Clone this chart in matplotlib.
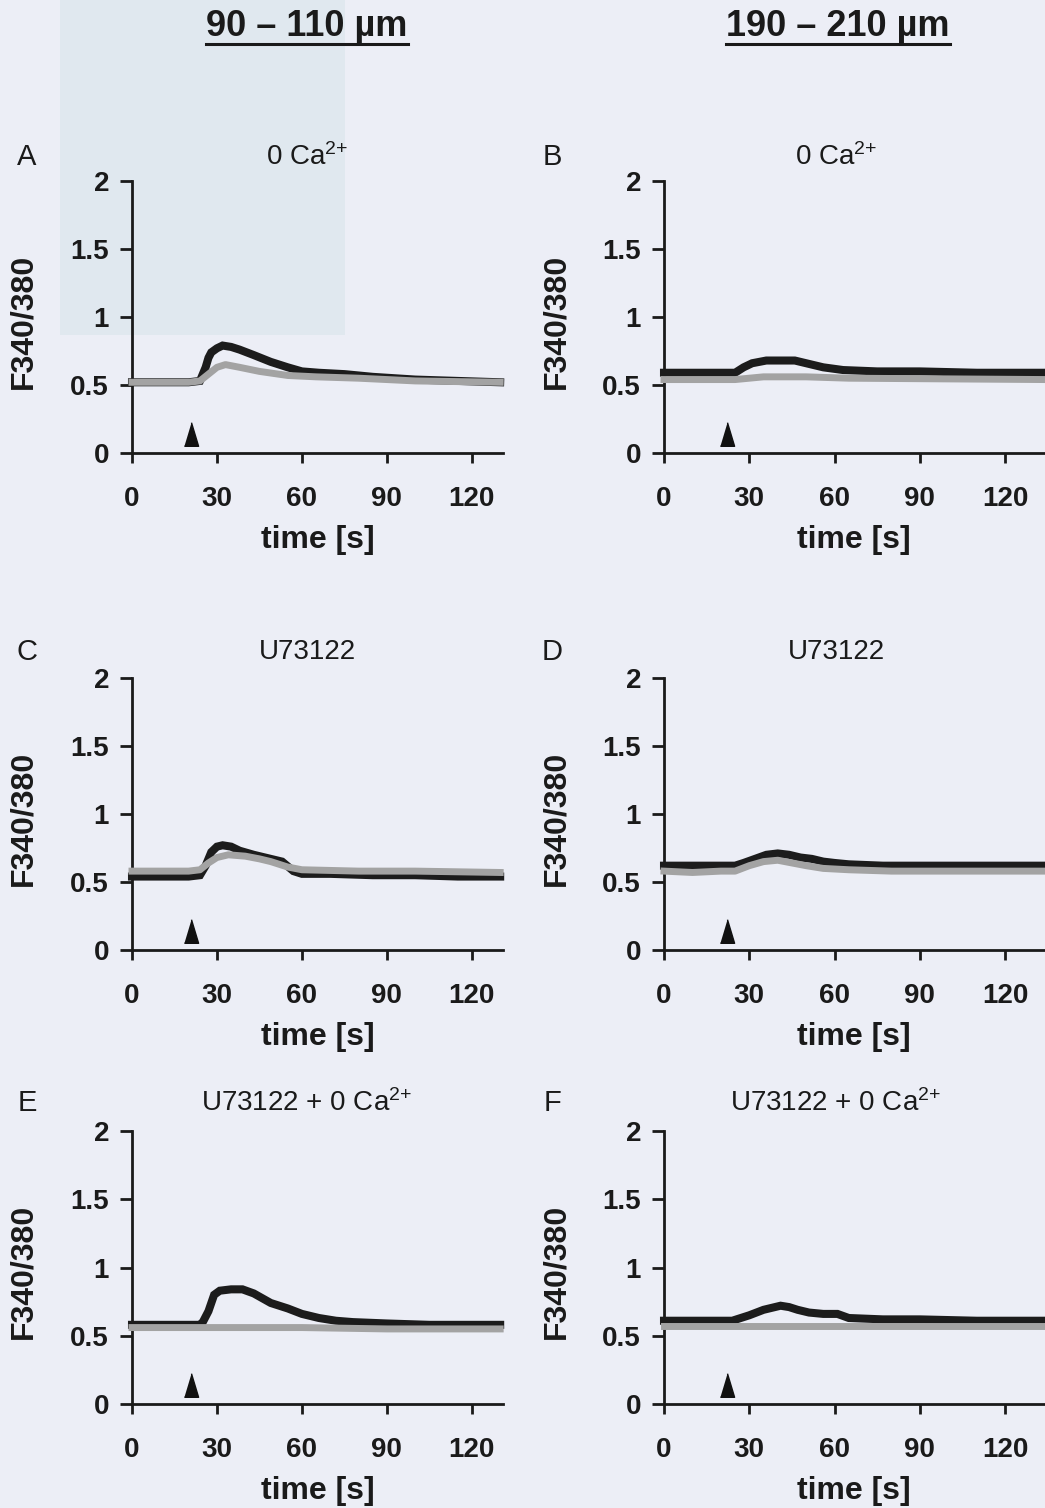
import matplotlib
matplotlib.use("Agg")
import matplotlib.pyplot as plt
from matplotlib.patches import Rectangle
from matplotlib.lines import Line2D

plt.rcParams['font.family'] = ['Liberation Sans', 'DejaVu Sans']
plt.rcParams['mathtext.default'] = 'regular'

# ---------------- data ----------------
column_headers = ["90 – 110 µm", "190 – 210 µm"]
panel_letters = ["A", "B", "C", "D", "E", "F"]
panel_titles = ["0 Ca$^{2{+}}$", "0 Ca$^{2{+}}$", "U73122", "U73122",
                "U73122 + 0 Ca$^{2{+}}$", "U73122 + 0 Ca$^{2{+}}$"]
x_ticks = [0, 30, 60, 90, 120]
y_ticks = [0, 0.5, 1, 1.5, 2]
y_tick_labels = ["0", "0.5", "1", "1.5", "2"]
stim_t = [21, 22, 21, 22, 21, 22]
stim_y = [0.14, 0.14, 0.14, 0.14, 0.14, 0.14]

# Panel A (90-110 um, 0 Ca2+)
a_black_t = [0, 10, 20, 24, 25, 26, 27, 28, 30, 32, 35, 38, 43, 49, 55, 60, 66, 75, 85, 100, 115, 130]
a_black_y = [0.52, 0.52, 0.52, 0.53, 0.58, 0.63, 0.70, 0.74, 0.77, 0.79, 0.78, 0.76, 0.72, 0.67, 0.63,
             0.60, 0.59, 0.58, 0.56, 0.54, 0.53, 0.52]
a_grey_t = [0, 20, 24, 27, 30, 33, 38, 45, 55, 65, 80, 100, 130]
a_grey_y = [0.52, 0.52, 0.53, 0.58, 0.63, 0.65, 0.63, 0.60, 0.57, 0.56, 0.55, 0.53, 0.52]

# Panel B (190-210 um, 0 Ca2+)
b_black_t = [0, 10, 20, 25, 28, 31, 36, 41, 46, 50, 56, 63, 75, 90, 110, 134]
b_black_y = [0.59, 0.59, 0.59, 0.59, 0.63, 0.66, 0.68, 0.68, 0.68, 0.66, 0.63, 0.61, 0.60, 0.60, 0.59, 0.59]
b_grey_t = [0, 25, 35, 50, 65, 134]
b_grey_y = [0.54, 0.54, 0.56, 0.56, 0.55, 0.54]

# Panel C (90-110 um, U73122)
c_black_t = [0, 10, 20, 24, 26, 28, 30, 32, 35, 38, 43, 49, 53, 57, 60, 70, 85, 100, 115, 130]
c_black_y = [0.54, 0.54, 0.54, 0.55, 0.62, 0.72, 0.76, 0.77, 0.76, 0.73, 0.70, 0.67, 0.65, 0.58,
             0.56, 0.56, 0.55, 0.55, 0.54, 0.54]
c_grey_t = [0, 20, 24, 27, 30, 34, 40, 45, 49, 55, 60, 80, 100, 130]
c_grey_y = [0.58, 0.58, 0.59, 0.64, 0.68, 0.70, 0.69, 0.67, 0.65, 0.61, 0.59, 0.58, 0.58, 0.57]

# Panel D (190-210 um, U73122)
d_black_t = [0, 10, 20, 25, 28, 32, 36, 40, 44, 48, 52, 56, 60, 65, 77, 90, 110, 134]
d_black_y = [0.62, 0.62, 0.62, 0.62, 0.64, 0.67, 0.70, 0.71, 0.70, 0.68, 0.67, 0.65, 0.64, 0.63,
             0.62, 0.62, 0.62, 0.62]
d_grey_t = [0, 10, 20, 25, 30, 35, 40, 45, 50, 56, 65, 80, 100, 134]
d_grey_y = [0.58, 0.57, 0.58, 0.58, 0.62, 0.65, 0.66, 0.64, 0.62, 0.60, 0.59, 0.58, 0.58, 0.58]

# Panel E (90-110 um, U73122 + 0 Ca2+)
e_black_t = [0, 10, 20, 24, 25, 26, 27, 29, 31, 35, 39, 43, 49, 55, 60, 66, 72, 78, 90, 105, 130]
e_black_y = [0.58, 0.58, 0.58, 0.58, 0.60, 0.64, 0.68, 0.80, 0.83, 0.84, 0.84, 0.81, 0.74, 0.70,
             0.66, 0.63, 0.61, 0.60, 0.59, 0.58, 0.58]
e_grey_t = [0, 30, 60, 90, 130]
e_grey_y = [0.56, 0.56, 0.56, 0.55, 0.55]

# Panel F (190-210 um, U73122 + 0 Ca2+)
f_black_t = [0, 10, 20, 24, 27, 30, 35, 41, 44, 47, 51, 56, 61, 65, 77, 90, 110, 134]
f_black_y = [0.61, 0.61, 0.61, 0.61, 0.63, 0.65, 0.69, 0.72, 0.71, 0.69, 0.67, 0.66, 0.66, 0.63,
             0.62, 0.62, 0.61, 0.61]
f_grey_t = [0, 40, 80, 134]
f_grey_y = [0.57, 0.57, 0.57, 0.57]

black_series = [(a_black_t, a_black_y), (b_black_t, b_black_y), (c_black_t, c_black_y),
                (d_black_t, d_black_y), (e_black_t, e_black_y), (f_black_t, f_black_y)]
grey_series = [(a_grey_t, a_grey_y), (b_grey_t, b_grey_y), (c_grey_t, c_grey_y),
               (d_grey_t, d_grey_y), (e_grey_t, e_grey_y), (f_grey_t, f_grey_y)]

# ---------------- layout ----------------
W, H = 1045, 1508
BG = '#eceef6'
fig = plt.figure(figsize=(W / 100, H / 100), dpi=100, facecolor=BG)

# faint scan background block (top-left)
fig.patches.append(Rectangle((60 / W, 1 - 335 / H), 285 / W, 335 / H, transform=fig.transFigure,
                             facecolor='#e0e8ef', edgecolor='none', zorder=-10))

def rect(l, t, r, b):
    return [l / W, 1 - b / H, (r - l) / W, (b - t) / H]

cols = [(132, 503, 131), (664, 1045, 134)]
rows = [(181, 453), (678, 950), (1131, 1404)]

letter_x = [27, 552]
title_x = [307, 836]
row_text_y = [157, 652, 1103]

for i in range(6):
    r, c = divmod(i, 2)
    l, rr, xmax = cols[c]
    t, b = rows[r]
    ax = fig.add_axes(rect(l, t, rr, b))
    ax.set_facecolor('none')
    ax.patch.set_alpha(0)
    bt, by = black_series[i]
    gt, gy = grey_series[i]
    ax.plot(bt, by, color='#1c1c1c', lw=5.8, solid_joinstyle='miter', zorder=3, clip_on=False)
    ax.plot(gt, gy, color='#a3a3a3', lw=5.0, zorder=4, clip_on=False)
    tri = [(-0.3, -0.5), (0.3, -0.5), (0.0, 0.5)]
    ax.plot([stim_t[i]], [stim_y[i]], linestyle='none', marker=tri, markersize=17,
            color='#111111', zorder=5)
    ax.set_xlim(0, xmax)
    ax.set_ylim(0, 2)
    for s in ['top', 'right']:
        ax.spines[s].set_visible(False)
    for s in ['left', 'bottom']:
        ax.spines[s].set_linewidth(2.0)
        ax.spines[s].set_color('#1a1a1a')
    ax.set_xticks(x_ticks)
    ax.set_yticks(y_ticks)
    ax.set_yticklabels(y_tick_labels)
    ax.tick_params(axis='x', direction='out', length=7, width=2, pad=17,
                   labelsize=20, colors='#1a1a1a')
    ax.tick_params(axis='y', direction='out', length=8.5, width=2, pad=8,
                   labelsize=20, colors='#1a1a1a')
    for lab in ax.get_xticklabels() + ax.get_yticklabels():
        lab.set_fontweight('bold')
    ax.set_xlabel('time [s]', fontsize=23, fontweight='bold', color='#1a1a1a')
    ax.xaxis.set_label_coords(0.5 if c == 0 else (854 - l) / (rr - l), -87 / (b - t))
    ax.xaxis.label.set_va('center')
    ax.set_ylabel('F340/380', fontsize=23, fontweight='bold', color='#1a1a1a')
    ylab_x = 23 if c == 0 else 556
    ax.yaxis.set_label_coords((ylab_x - l) / (rr - l), 0.5 - 4 / (b - t))
    ax.yaxis.label.set_va('center')

    fig.text(letter_x[c] / W, 1 - row_text_y[r] / H, panel_letters[i], fontsize=21,
             ha='center', va='center', color='#1a1a1a')
    fig.text(title_x[c] / W, 1 - row_text_y[r] / H, panel_titles[i], fontsize=20,
             ha='center', va='center', color='#1a1a1a')

# column headers with underline
header_x = [307, 838]
fig.canvas.draw()
renderer = fig.canvas.get_renderer()
for hx, htxt in zip(header_x, column_headers):
    tx = fig.text(hx / W, 1 - 27 / H, htxt, fontsize=26, fontweight='bold',
                  ha='center', va='center', color='#1a1a1a')
    bb = tx.get_window_extent(renderer=renderer)
    x0, x1 = bb.x0 / W, bb.x1 / W
    fig.add_artist(Line2D([x0, x1], [1 - 44 / H, 1 - 44 / H], transform=fig.transFigure,
                          color='#1a1a1a', lw=2.2))

fig.savefig('out.png', dpi=100, facecolor=BG)
